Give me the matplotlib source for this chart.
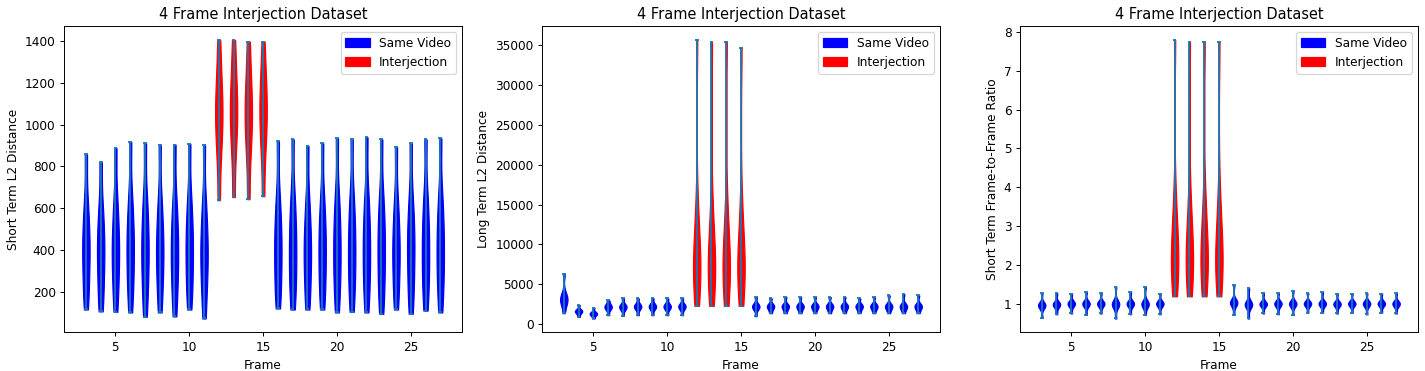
import matplotlib
matplotlib.use("Agg")
import matplotlib.pyplot as plt
from matplotlib.patches import Patch

frames = list(range(3, 28))
interjection = [12, 13, 14, 15]

# samples, one list per frame
short_l2 = [
    [115, 200, 280, 350, 410, 470, 540, 640, 858],
    [106, 190, 270, 340, 400, 460, 530, 620, 819],
    [104, 200, 280, 350, 410, 470, 550, 650, 888],
    [101, 200, 280, 350, 420, 480, 560, 660, 917],
    [80, 190, 270, 350, 410, 480, 560, 660, 912],
    [101, 200, 280, 350, 410, 470, 550, 650, 904],
    [82, 190, 270, 340, 410, 470, 550, 650, 904],
    [115, 200, 280, 350, 420, 480, 560, 660, 907],
    [72, 190, 270, 340, 400, 460, 540, 640, 904],
    [638, 820, 920, 990, 1050, 1110, 1180, 1270, 1405],
    [653, 830, 930, 1000, 1060, 1120, 1190, 1280, 1405],
    [643, 820, 920, 990, 1050, 1110, 1180, 1270, 1397],
    [657, 830, 930, 1000, 1060, 1120, 1190, 1270, 1397],
    [120, 200, 280, 350, 420, 480, 560, 660, 920],
    [115, 200, 280, 350, 420, 490, 570, 670, 929],
    [115, 200, 280, 350, 410, 470, 550, 650, 898],
    [115, 200, 280, 350, 420, 480, 560, 660, 912],
    [101, 200, 280, 350, 420, 490, 570, 670, 934],
    [104, 200, 280, 350, 420, 490, 570, 670, 931],
    [101, 200, 280, 350, 420, 490, 570, 670, 939],
    [94, 190, 270, 350, 420, 490, 570, 670, 929],
    [115, 200, 280, 350, 410, 470, 550, 650, 893],
    [94, 190, 270, 350, 420, 480, 560, 660, 910],
    [110, 200, 280, 350, 420, 490, 570, 670, 929],
    [101, 200, 280, 350, 420, 490, 570, 670, 934],
]

long_l2 = [
    [1380, 2300, 2700, 3000, 3200, 3500, 4000, 6280],
    [920, 1300, 1500, 1600, 1700, 1850, 2390],
    [710, 1050, 1200, 1300, 1400, 1550, 2050],
    [1130, 1750, 2000, 2150, 2300, 2500, 2980],
    [1050, 1750, 2000, 2150, 2300, 2500, 3230],
    [1130, 1800, 2050, 2200, 2350, 2550, 3230],
    [1130, 1800, 2050, 2200, 2350, 2550, 3230],
    [1130, 1800, 2050, 2200, 2350, 2550, 3230],
    [1130, 1800, 2050, 2200, 2350, 2550, 3230],
    [2300, 4000, 5500, 6500, 7300, 8200, 9500, 11500, 15000, 35670],
    [2300, 4000, 5500, 6500, 7300, 8200, 9500, 11500, 15000, 35380],
    [2300, 4000, 5500, 6500, 7300, 8200, 9500, 11500, 15000, 35460],
    [2300, 4000, 5500, 6500, 7300, 8200, 9500, 11500, 15000, 34700],
    [1000, 1800, 2050, 2200, 2350, 2550, 3400],
    [1380, 1800, 2050, 2200, 2350, 2550, 3230],
    [1380, 1800, 2050, 2200, 2350, 2550, 3400],
    [1380, 1800, 2050, 2200, 2350, 2550, 3400],
    [1380, 1800, 2050, 2200, 2350, 2550, 3400],
    [1380, 1800, 2050, 2200, 2350, 2550, 3400],
    [1380, 1800, 2050, 2200, 2350, 2550, 3400],
    [1380, 1800, 2050, 2200, 2350, 2550, 3230],
    [1380, 1800, 2050, 2200, 2350, 2550, 3400],
    [1380, 1800, 2050, 2200, 2350, 2550, 3600],
    [1380, 1800, 2050, 2200, 2350, 2550, 3770],
    [1380, 1800, 2050, 2200, 2350, 2550, 3600],
]

short_ratio = [
    [0.65, 0.88, 0.93, 0.96, 0.98, 1.00, 1.04, 1.28],
    [0.74, 0.90, 0.95, 0.98, 1.00, 1.02, 1.06, 1.28],
    [0.76, 0.92, 0.97, 1.00, 1.02, 1.04, 1.08, 1.27],
    [0.73, 0.92, 0.97, 1.00, 1.02, 1.04, 1.08, 1.31],
    [0.76, 0.92, 0.97, 1.00, 1.02, 1.04, 1.08, 1.28],
    [0.63, 0.90, 0.95, 0.99, 1.01, 1.04, 1.08, 1.45],
    [0.74, 0.92, 0.97, 1.00, 1.02, 1.04, 1.08, 1.31],
    [0.72, 0.91, 0.96, 0.99, 1.01, 1.04, 1.08, 1.45],
    [0.74, 0.92, 0.97, 1.00, 1.02, 1.04, 1.08, 1.27],
    [1.20, 1.50, 1.80, 2.00, 2.20, 2.40, 2.70, 3.10, 3.80, 7.79],
    [1.20, 1.50, 1.80, 2.00, 2.20, 2.40, 2.70, 3.10, 3.80, 7.74],
    [1.20, 1.50, 1.80, 2.00, 2.20, 2.40, 2.70, 3.10, 3.80, 7.74],
    [1.20, 1.50, 1.80, 2.00, 2.20, 2.40, 2.70, 3.10, 3.80, 7.74],
    [0.73, 0.95, 1.00, 1.03, 1.05, 1.07, 1.11, 1.49],
    [0.63, 0.90, 0.95, 0.98, 1.00, 1.03, 1.07, 1.41],
    [0.76, 0.92, 0.97, 0.99, 1.01, 1.03, 1.07, 1.28],
    [0.74, 0.92, 0.97, 1.00, 1.02, 1.04, 1.08, 1.28],
    [0.72, 0.92, 0.97, 1.00, 1.02, 1.04, 1.08, 1.33],
    [0.78, 0.93, 0.98, 1.00, 1.02, 1.04, 1.08, 1.28],
    [0.78, 0.93, 0.98, 1.00, 1.02, 1.04, 1.08, 1.31],
    [0.76, 0.92, 0.97, 0.99, 1.01, 1.03, 1.07, 1.27],
    [0.78, 0.93, 0.98, 1.00, 1.02, 1.04, 1.08, 1.27],
    [0.74, 0.92, 0.97, 1.00, 1.02, 1.04, 1.08, 1.28],
    [0.78, 0.93, 0.98, 1.00, 1.02, 1.04, 1.08, 1.27],
    [0.76, 0.92, 0.97, 1.00, 1.02, 1.04, 1.08, 1.28],
]

panels = [
    (short_l2, "Short Term L2 Distance"),
    (long_l2, "Long Term L2 Distance"),
    (short_ratio, "Short Term Frame-to-Frame Ratio"),
]

dpi = 87
fig, axes = plt.subplots(1, 3, figsize=(1425 / dpi, 371 / dpi), dpi=dpi)

for ax, (data, ylabel) in zip(axes, panels):
    parts = ax.violinplot(data, positions=frames, widths=0.5, bw_method=0.4)
    for f, body in zip(frames, parts["bodies"]):
        c = "red" if f in interjection else "blue"
        body.set_facecolor(c)
        body.set_edgecolor(c)
        body.set_alpha(1)
    ax.set_title("4 Frame Interjection Dataset")
    ax.set_xlabel("Frame")
    ax.set_ylabel(ylabel)
    handles = [Patch(color="blue", label="Same Video"),
               Patch(color="red", label="Interjection")]
    ax.legend(handles=handles, loc="upper right")

fig.subplots_adjust(left=0.045, right=0.995, bottom=0.104, top=0.93, wspace=0.201)
fig.savefig("out.png", dpi=dpi)
